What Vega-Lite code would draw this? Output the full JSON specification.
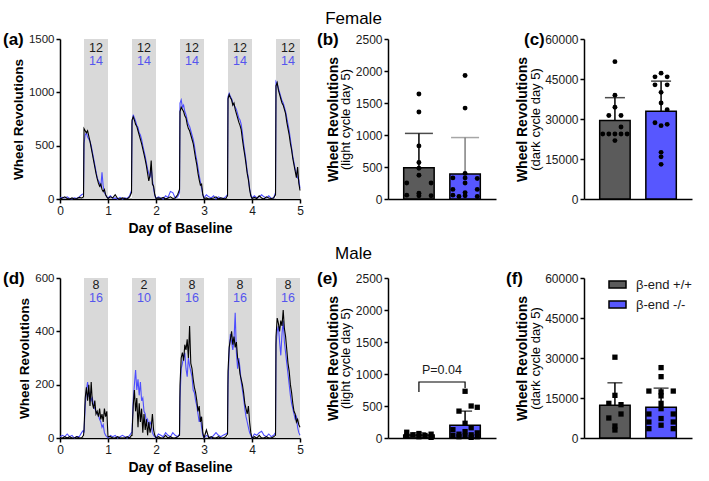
{
  "$schema": "https://vega.github.io/schema/vega-lite/v6.json",
  "background": "white",
  "padding": {"left": 3, "top": 10, "right": 5, "bottom": 5},
  "spacing": 10,
  "config": {
    "font": "Liberation Sans",
    "view": {"stroke": null},
    "axis": {"domainColor": "black", "domainWidth": 1.5, "tickColor": "black", "tickWidth": 1.5, "tickSize": 4, "labelColor": "#1a1a1a", "labelFontSize": 12, "labelPadding": 2, "titleColor": "black", "titleFontSize": 14, "titleFontWeight": "bold", "grid": false, "labelFlush": false},
    "legend": {"offset": 0},
    "title": {"color": "black"}
  },
  "datasets": {
    "fem": [
      {"t":0,"wt":0,"ko":10},{"t":0.05,"wt":10,"ko":15},{"t":0.1,"wt":20,"ko":10},{"t":0.15,"wt":5,"ko":20},{"t":0.2,"wt":0,"ko":5},{"t":0.25,"wt":10,"ko":0},{"t":0.3,"wt":0,"ko":10},{"t":0.35,"wt":5,"ko":5},{"t":0.4,"wt":15,"ko":20},{"t":0.45,"wt":10,"ko":40},{"t":0.49,"wt":20,"ko":50},
      {"t":0.5,"wt":660,"ko":520},{"t":0.525,"wt":640,"ko":600},{"t":0.55,"wt":620,"ko":620},{"t":0.575,"wt":640,"ko":580},{"t":0.6,"wt":590,"ko":560},{"t":0.625,"wt":540,"ko":540},{"t":0.65,"wt":480,"ko":500},{"t":0.675,"wt":420,"ko":440},{"t":0.7,"wt":360,"ko":380},{"t":0.725,"wt":300,"ko":320},{"t":0.75,"wt":240,"ko":260},{"t":0.775,"wt":190,"ko":200},{"t":0.8,"wt":150,"ko":170},{"t":0.825,"wt":120,"ko":150},{"t":0.85,"wt":140,"ko":110},{"t":0.875,"wt":90,"ko":250},{"t":0.9,"wt":70,"ko":120},{"t":0.925,"wt":90,"ko":60},{"t":0.95,"wt":40,"ko":40},{"t":0.975,"wt":20,"ko":20},{"t":1.0,"wt":5,"ko":10},
      {"t":1.05,"wt":20,"ko":30},{"t":1.1,"wt":10,"ko":5},{"t":1.15,"wt":40,"ko":10},{"t":1.2,"wt":5,"ko":0},{"t":1.25,"wt":0,"ko":15},{"t":1.3,"wt":10,"ko":0},{"t":1.35,"wt":5,"ko":10},{"t":1.4,"wt":0,"ko":5},{"t":1.45,"wt":20,"ko":30},{"t":1.49,"wt":60,"ko":80},
      {"t":1.5,"wt":740,"ko":700},{"t":1.525,"wt":770,"ko":790},{"t":1.55,"wt":740,"ko":760},{"t":1.575,"wt":700,"ko":730},{"t":1.6,"wt":680,"ko":690},{"t":1.625,"wt":640,"ko":670},{"t":1.65,"wt":600,"ko":620},{"t":1.675,"wt":560,"ko":600},{"t":1.7,"wt":520,"ko":560},{"t":1.725,"wt":470,"ko":500},{"t":1.75,"wt":420,"ko":450},{"t":1.775,"wt":370,"ko":400},{"t":1.8,"wt":310,"ko":340},{"t":1.825,"wt":240,"ko":280},{"t":1.85,"wt":170,"ko":240},{"t":1.875,"wt":220,"ko":200},{"t":1.9,"wt":360,"ko":300},{"t":1.925,"wt":140,"ko":180},{"t":1.95,"wt":120,"ko":100},{"t":1.975,"wt":40,"ko":30},{"t":2.0,"wt":5,"ko":5},
      {"t":2.05,"wt":10,"ko":20},{"t":2.1,"wt":5,"ko":10},{"t":2.15,"wt":15,"ko":0},{"t":2.2,"wt":0,"ko":30},{"t":2.25,"wt":10,"ko":15},{"t":2.3,"wt":20,"ko":70},{"t":2.35,"wt":5,"ko":60},{"t":2.4,"wt":10,"ko":10},{"t":2.45,"wt":40,"ko":20},{"t":2.49,"wt":90,"ko":60},
      {"t":2.5,"wt":820,"ko":900},{"t":2.525,"wt":860,"ko":930},{"t":2.55,"wt":840,"ko":860},{"t":2.575,"wt":820,"ko":880},{"t":2.6,"wt":780,"ko":820},{"t":2.625,"wt":760,"ko":790},{"t":2.65,"wt":700,"ko":740},{"t":2.675,"wt":660,"ko":700},{"t":2.7,"wt":640,"ko":680},{"t":2.725,"wt":600,"ko":640},{"t":2.75,"wt":560,"ko":600},{"t":2.775,"wt":520,"ko":560},{"t":2.8,"wt":450,"ko":500},{"t":2.825,"wt":380,"ko":420},{"t":2.85,"wt":320,"ko":360},{"t":2.875,"wt":240,"ko":290},{"t":2.9,"wt":180,"ko":220},{"t":2.925,"wt":130,"ko":160},{"t":2.95,"wt":140,"ko":100},{"t":2.975,"wt":40,"ko":40},{"t":3.0,"wt":5,"ko":10},
      {"t":3.05,"wt":10,"ko":40},{"t":3.1,"wt":0,"ko":20},{"t":3.15,"wt":5,"ko":10},{"t":3.2,"wt":10,"ko":30},{"t":3.25,"wt":20,"ko":0},{"t":3.3,"wt":0,"ko":20},{"t":3.35,"wt":10,"ko":10},{"t":3.4,"wt":5,"ko":5},{"t":3.45,"wt":0,"ko":20},{"t":3.49,"wt":30,"ko":40},
      {"t":3.5,"wt":940,"ko":960},{"t":3.525,"wt":980,"ko":990},{"t":3.55,"wt":950,"ko":960},{"t":3.575,"wt":930,"ko":940},{"t":3.6,"wt":880,"ko":900},{"t":3.625,"wt":900,"ko":880},{"t":3.65,"wt":840,"ko":860},{"t":3.675,"wt":800,"ko":840},{"t":3.7,"wt":760,"ko":800},{"t":3.725,"wt":720,"ko":760},{"t":3.75,"wt":690,"ko":740},{"t":3.775,"wt":650,"ko":700},{"t":3.8,"wt":560,"ko":620},{"t":3.825,"wt":480,"ko":520},{"t":3.85,"wt":410,"ko":440},{"t":3.875,"wt":330,"ko":360},{"t":3.9,"wt":240,"ko":260},{"t":3.925,"wt":180,"ko":200},{"t":3.95,"wt":90,"ko":100},{"t":3.975,"wt":30,"ko":40},{"t":4.0,"wt":5,"ko":10},
      {"t":4.05,"wt":15,"ko":30},{"t":4.1,"wt":5,"ko":10},{"t":4.15,"wt":30,"ko":20},{"t":4.2,"wt":10,"ko":40},{"t":4.25,"wt":0,"ko":20},{"t":4.3,"wt":20,"ko":10},{"t":4.35,"wt":10,"ko":30},{"t":4.4,"wt":5,"ko":5},{"t":4.45,"wt":10,"ko":10},{"t":4.49,"wt":40,"ko":60},
      {"t":4.5,"wt":1060,"ko":1100},{"t":4.525,"wt":1090,"ko":1080},{"t":4.55,"wt":1020,"ko":1040},{"t":4.575,"wt":980,"ko":1000},{"t":4.6,"wt":940,"ko":960},{"t":4.625,"wt":900,"ko":920},{"t":4.65,"wt":880,"ko":900},{"t":4.675,"wt":840,"ko":860},{"t":4.7,"wt":800,"ko":820},{"t":4.725,"wt":720,"ko":760},{"t":4.75,"wt":660,"ko":700},{"t":4.775,"wt":600,"ko":640},{"t":4.8,"wt":520,"ko":560},{"t":4.825,"wt":460,"ko":480},{"t":4.85,"wt":380,"ko":400},{"t":4.875,"wt":320,"ko":340},{"t":4.9,"wt":260,"ko":280},{"t":4.925,"wt":200,"ko":240},{"t":4.95,"wt":300,"ko":200},{"t":4.975,"wt":150,"ko":180},{"t":5.0,"wt":80,"ko":100}
    ],
    "mal": [
      {"t":0,"wt":0,"ko":5},{"t":0.05,"wt":0,"ko":10},{"t":0.1,"wt":5,"ko":5},{"t":0.15,"wt":0,"ko":15},{"t":0.2,"wt":5,"ko":5},{"t":0.25,"wt":0,"ko":10},{"t":0.3,"wt":0,"ko":0},{"t":0.35,"wt":5,"ko":5},{"t":0.4,"wt":0,"ko":5},{"t":0.45,"wt":0,"ko":20},{"t":0.49,"wt":10,"ko":30},
      {"t":0.5,"wt":30,"ko":20},{"t":0.525,"wt":150,"ko":120},{"t":0.55,"wt":190,"ko":180},{"t":0.575,"wt":140,"ko":210},{"t":0.6,"wt":200,"ko":160},{"t":0.625,"wt":120,"ko":170},{"t":0.65,"wt":210,"ko":140},{"t":0.675,"wt":130,"ko":150},{"t":0.7,"wt":110,"ko":120},{"t":0.725,"wt":140,"ko":110},{"t":0.75,"wt":90,"ko":100},{"t":0.775,"wt":100,"ko":90},{"t":0.8,"wt":80,"ko":85},{"t":0.825,"wt":110,"ko":70},{"t":0.85,"wt":70,"ko":60},{"t":0.875,"wt":90,"ko":40},{"t":0.9,"wt":60,"ko":50},{"t":0.925,"wt":110,"ko":20},{"t":0.95,"wt":80,"ko":10},{"t":0.975,"wt":100,"ko":5},{"t":1.0,"wt":5,"ko":0},
      {"t":1.05,"wt":5,"ko":10},{"t":1.1,"wt":0,"ko":5},{"t":1.15,"wt":0,"ko":10},{"t":1.2,"wt":5,"ko":0},{"t":1.25,"wt":0,"ko":5},{"t":1.3,"wt":0,"ko":10},{"t":1.35,"wt":0,"ko":5},{"t":1.4,"wt":5,"ko":0},{"t":1.45,"wt":0,"ko":10},{"t":1.49,"wt":10,"ko":20},
      {"t":1.5,"wt":10,"ko":20},{"t":1.525,"wt":120,"ko":140},{"t":1.55,"wt":180,"ko":200},{"t":1.575,"wt":100,"ko":255},{"t":1.6,"wt":150,"ko":180},{"t":1.625,"wt":40,"ko":220},{"t":1.65,"wt":130,"ko":160},{"t":1.675,"wt":60,"ko":210},{"t":1.7,"wt":110,"ko":140},{"t":1.725,"wt":20,"ko":150},{"t":1.75,"wt":90,"ko":100},{"t":1.775,"wt":30,"ko":90},{"t":1.8,"wt":70,"ko":60},{"t":1.825,"wt":10,"ko":70},{"t":1.85,"wt":60,"ko":40},{"t":1.875,"wt":20,"ko":60},{"t":1.9,"wt":40,"ko":50},{"t":1.925,"wt":90,"ko":20},{"t":1.95,"wt":30,"ko":10},{"t":1.975,"wt":10,"ko":5},{"t":2.0,"wt":0,"ko":0},
      {"t":2.05,"wt":5,"ko":15},{"t":2.1,"wt":0,"ko":10},{"t":2.15,"wt":0,"ko":5},{"t":2.2,"wt":10,"ko":20},{"t":2.25,"wt":0,"ko":10},{"t":2.3,"wt":5,"ko":5},{"t":2.35,"wt":0,"ko":20},{"t":2.4,"wt":0,"ko":10},{"t":2.45,"wt":5,"ko":5},{"t":2.49,"wt":10,"ko":15},
      {"t":2.5,"wt":200,"ko":150},{"t":2.525,"wt":300,"ko":260},{"t":2.55,"wt":320,"ko":280},{"t":2.575,"wt":290,"ko":300},{"t":2.6,"wt":350,"ko":320},{"t":2.625,"wt":330,"ko":260},{"t":2.65,"wt":370,"ko":230},{"t":2.675,"wt":300,"ko":300},{"t":2.7,"wt":420,"ko":270},{"t":2.725,"wt":280,"ko":250},{"t":2.75,"wt":260,"ko":230},{"t":2.775,"wt":220,"ko":180},{"t":2.8,"wt":190,"ko":170},{"t":2.825,"wt":170,"ko":140},{"t":2.85,"wt":140,"ko":120},{"t":2.875,"wt":100,"ko":90},{"t":2.9,"wt":120,"ko":60},{"t":2.925,"wt":60,"ko":80},{"t":2.95,"wt":80,"ko":40},{"t":2.975,"wt":20,"ko":10},{"t":3.0,"wt":0,"ko":0},
      {"t":3.05,"wt":30,"ko":10},{"t":3.1,"wt":0,"ko":5},{"t":3.15,"wt":5,"ko":0},{"t":3.2,"wt":0,"ko":10},{"t":3.25,"wt":0,"ko":20},{"t":3.3,"wt":5,"ko":10},{"t":3.35,"wt":0,"ko":5},{"t":3.4,"wt":0,"ko":10},{"t":3.45,"wt":5,"ko":15},{"t":3.49,"wt":15,"ko":20},
      {"t":3.5,"wt":250,"ko":200},{"t":3.525,"wt":340,"ko":330},{"t":3.55,"wt":370,"ko":390},{"t":3.575,"wt":400,"ko":360},{"t":3.6,"wt":350,"ko":330},{"t":3.625,"wt":380,"ko":370},{"t":3.65,"wt":340,"ko":470},{"t":3.675,"wt":360,"ko":320},{"t":3.7,"wt":300,"ko":260},{"t":3.725,"wt":280,"ko":300},{"t":3.75,"wt":240,"ko":260},{"t":3.775,"wt":220,"ko":210},{"t":3.8,"wt":200,"ko":180},{"t":3.825,"wt":170,"ko":150},{"t":3.85,"wt":130,"ko":110},{"t":3.875,"wt":110,"ko":80},{"t":3.9,"wt":90,"ko":60},{"t":3.925,"wt":120,"ko":40},{"t":3.95,"wt":60,"ko":20},{"t":3.975,"wt":20,"ko":10},{"t":4.0,"wt":0,"ko":0},
      {"t":4.05,"wt":5,"ko":15},{"t":4.1,"wt":0,"ko":10},{"t":4.15,"wt":10,"ko":20},{"t":4.2,"wt":0,"ko":25},{"t":4.25,"wt":0,"ko":10},{"t":4.3,"wt":5,"ko":5},{"t":4.35,"wt":0,"ko":15},{"t":4.4,"wt":0,"ko":5},{"t":4.45,"wt":5,"ko":10},{"t":4.49,"wt":10,"ko":20},
      {"t":4.5,"wt":380,"ko":350},{"t":4.525,"wt":450,"ko":400},{"t":4.55,"wt":430,"ko":420},{"t":4.575,"wt":400,"ko":360},{"t":4.6,"wt":440,"ko":310},{"t":4.625,"wt":420,"ko":390},{"t":4.65,"wt":480,"ko":440},{"t":4.675,"wt":410,"ko":360},{"t":4.7,"wt":380,"ko":320},{"t":4.725,"wt":330,"ko":280},{"t":4.75,"wt":280,"ko":240},{"t":4.775,"wt":250,"ko":200},{"t":4.8,"wt":200,"ko":160},{"t":4.825,"wt":170,"ko":130},{"t":4.85,"wt":130,"ko":110},{"t":4.875,"wt":100,"ko":90},{"t":4.9,"wt":90,"ko":70},{"t":4.925,"wt":60,"ko":80},{"t":4.95,"wt":70,"ko":40},{"t":4.975,"wt":50,"ko":20},{"t":5.0,"wt":40,"ko":10}
    ],
    "shadeF": [
      {"s":0.5,"e":1,"nw":"12","nk":"14"},{"s":1.5,"e":2,"nw":"12","nk":"14"},{"s":2.5,"e":3,"nw":"12","nk":"14"},{"s":3.5,"e":4,"nw":"12","nk":"14"},{"s":4.5,"e":5,"nw":"12","nk":"14"}
    ],
    "shadeM": [
      {"s":0.5,"e":1,"nw":"8","nk":"16"},{"s":1.5,"e":2,"nw":"2","nk":"10"},{"s":2.5,"e":3,"nw":"8","nk":"16"},{"s":3.5,"e":4,"nw":"8","nk":"16"},{"s":4.5,"e":5,"nw":"8","nk":"16"}
    ],
    "sums": [
      {"p":"b","g":"β-end +/+","m":490,"hi":1025},{"p":"b","g":"β-end -/-","m":390,"hi":960},
      {"p":"c","g":"β-end +/+","m":29400,"hi":38000},{"p":"c","g":"β-end -/-","m":32900,"hi":44200},
      {"p":"e","g":"β-end +/+","m":45,"hi":80},{"p":"e","g":"β-end -/-","m":200,"hi":420},
      {"p":"f","g":"β-end +/+","m":12300,"hi":20700},{"p":"f","g":"β-end -/-","m":11500,"hi":18700}
    ],
    "pts": [
      {"p":"b","g":"β-end +/+","v":1640,"l":3},{"p":"b","g":"β-end +/+","v":1360,"l":3},{"p":"b","g":"β-end +/+","v":830,"l":3},{"p":"b","g":"β-end +/+","v":570,"l":3},{"p":"b","g":"β-end +/+","v":480,"l":3},{"p":"b","g":"β-end +/+","v":370,"l":3},{"p":"b","g":"β-end +/+","v":250,"l":1},{"p":"b","g":"β-end +/+","v":250,"l":5},{"p":"b","g":"β-end +/+","v":90,"l":3},{"p":"b","g":"β-end +/+","v":60,"l":1},{"p":"b","g":"β-end +/+","v":50,"l":3},{"p":"b","g":"β-end +/+","v":50,"l":5},
      {"p":"b","g":"β-end -/-","v":1930,"l":3},{"p":"b","g":"β-end -/-","v":1420,"l":3},{"p":"b","g":"β-end -/-","v":400,"l":3},{"p":"b","g":"β-end -/-","v":330,"l":1},{"p":"b","g":"β-end -/-","v":330,"l":3},{"p":"b","g":"β-end -/-","v":320,"l":5},{"p":"b","g":"β-end -/-","v":250,"l":3},{"p":"b","g":"β-end -/-","v":150,"l":1},{"p":"b","g":"β-end -/-","v":150,"l":5},{"p":"b","g":"β-end -/-","v":100,"l":3},{"p":"b","g":"β-end -/-","v":60,"l":1},{"p":"b","g":"β-end -/-","v":50,"l":3},{"p":"b","g":"β-end -/-","v":40,"l":5},{"p":"b","g":"β-end -/-","v":40,"l":2},
      {"p":"c","g":"β-end +/+","v":51500,"l":3},{"p":"c","g":"β-end +/+","v":38900,"l":3},{"p":"c","g":"β-end +/+","v":34400,"l":3},{"p":"c","g":"β-end +/+","v":31300,"l":2},{"p":"c","g":"β-end +/+","v":31300,"l":4},{"p":"c","g":"β-end +/+","v":27000,"l":4},{"p":"c","g":"β-end +/+","v":24400,"l":1},{"p":"c","g":"β-end +/+","v":24400,"l":2},{"p":"c","g":"β-end +/+","v":24400,"l":3},{"p":"c","g":"β-end +/+","v":24400,"l":4},{"p":"c","g":"β-end +/+","v":24400,"l":5},{"p":"c","g":"β-end +/+","v":21900,"l":3},
      {"p":"c","g":"β-end -/-","v":47200,"l":3},{"p":"c","g":"β-end -/-","v":45800,"l":2},{"p":"c","g":"β-end -/-","v":45800,"l":4},{"p":"c","g":"β-end -/-","v":42800,"l":2},{"p":"c","g":"β-end -/-","v":42800,"l":4},{"p":"c","g":"β-end -/-","v":40000,"l":3},{"p":"c","g":"β-end -/-","v":36000,"l":3},{"p":"c","g":"β-end -/-","v":33500,"l":4},{"p":"c","g":"β-end -/-","v":28600,"l":2},{"p":"c","g":"β-end -/-","v":28000,"l":4},{"p":"c","g":"β-end -/-","v":27500,"l":3},{"p":"c","g":"β-end -/-","v":17500,"l":3},{"p":"c","g":"β-end -/-","v":15800,"l":3},{"p":"c","g":"β-end -/-","v":13000,"l":3},
      {"p":"e","g":"β-end +/+","v":90,"l":1},{"p":"e","g":"β-end +/+","v":70,"l":3},{"p":"e","g":"β-end +/+","v":60,"l":5},{"p":"e","g":"β-end +/+","v":50,"l":2},{"p":"e","g":"β-end +/+","v":40,"l":4},{"p":"e","g":"β-end +/+","v":30,"l":1},{"p":"e","g":"β-end +/+","v":20,"l":3},{"p":"e","g":"β-end +/+","v":10,"l":5},
      {"p":"e","g":"β-end -/-","v":730,"l":3},{"p":"e","g":"β-end -/-","v":500,"l":4},{"p":"e","g":"β-end -/-","v":480,"l":5},{"p":"e","g":"β-end -/-","v":420,"l":2},{"p":"e","g":"β-end -/-","v":230,"l":3},{"p":"e","g":"β-end -/-","v":160,"l":4},{"p":"e","g":"β-end -/-","v":130,"l":1},{"p":"e","g":"β-end -/-","v":100,"l":3},{"p":"e","g":"β-end -/-","v":80,"l":5},{"p":"e","g":"β-end -/-","v":60,"l":2},{"p":"e","g":"β-end -/-","v":50,"l":4},{"p":"e","g":"β-end -/-","v":40,"l":1},{"p":"e","g":"β-end -/-","v":30,"l":3},{"p":"e","g":"β-end -/-","v":20,"l":5},{"p":"e","g":"β-end -/-","v":20,"l":2},{"p":"e","g":"β-end -/-","v":10,"l":4},
      {"p":"f","g":"β-end +/+","v":30300,"l":3},{"p":"f","g":"β-end +/+","v":16000,"l":3},{"p":"f","g":"β-end +/+","v":13000,"l":2},{"p":"f","g":"β-end +/+","v":12500,"l":4},{"p":"f","g":"β-end +/+","v":9000,"l":4},{"p":"f","g":"β-end +/+","v":7500,"l":2},{"p":"f","g":"β-end +/+","v":4500,"l":3},{"p":"f","g":"β-end +/+","v":3000,"l":3},
      {"p":"f","g":"β-end -/-","v":26400,"l":3},{"p":"f","g":"β-end -/-","v":23000,"l":3},{"p":"f","g":"β-end -/-","v":17600,"l":1},{"p":"f","g":"β-end -/-","v":17600,"l":5},{"p":"f","g":"β-end -/-","v":17300,"l":3},{"p":"f","g":"β-end -/-","v":15800,"l":3},{"p":"f","g":"β-end -/-","v":13000,"l":3},{"p":"f","g":"β-end -/-","v":11000,"l":3},{"p":"f","g":"β-end -/-","v":9000,"l":1},{"p":"f","g":"β-end -/-","v":9000,"l":5},{"p":"f","g":"β-end -/-","v":7300,"l":3},{"p":"f","g":"β-end -/-","v":6000,"l":1},{"p":"f","g":"β-end -/-","v":6000,"l":5},{"p":"f","g":"β-end -/-","v":4800,"l":3},{"p":"f","g":"β-end -/-","v":3500,"l":1},{"p":"f","g":"β-end -/-","v":3500,"l":5}
    ]
  },
  "resolve": {"scale": {"x": "independent", "y": "independent", "fill": "independent"}},
  "vconcat": [
    {
      "title": {"text": "Female", "fontSize": 17, "fontWeight": "normal", "anchor": "middle", "dx": 6, "offset": 3},
      "bounds": "flush",
      "spacing": 88,
      "resolve": {"scale": {"x": "independent", "y": "independent", "fill": "independent"}},
      "hconcat": [
        {
          "width": 240, "height": 160,
          "title": {"text": "(a)", "anchor": "start", "frame": "group", "dx": -57, "dy": 24, "offset": 0, "baseline": "middle", "fontSize": 17, "fontWeight": "bold"},
          "layer": [
            {"data": {"name": "shadeF"}, "mark": {"type": "rect", "color": "#d9d9d9"},
             "encoding": {
               "x": {"field": "s", "type": "quantitative", "scale": {"domain": [0, 5], "nice": false}, "axis": {"values": [0, 1, 2, 3, 4, 5], "title": "Day of Baseline", "titlePadding": 5, "labelFontSize": 12}},
               "x2": {"field": "e"},
               "y": {"datum": 0, "type": "quantitative", "scale": {"domain": [0, 1500], "nice": false}, "axis": {"values": [0, 500, 1000, 1500], "format": "d", "title": "Wheel Revolutions", "titlePadding": 3, "titleFontSize": 13.5, "labelFontSize": 11.5}},
               "y2": {"datum": 1500}}},
            {"data": {"name": "fem"}, "mark": {"type": "line", "color": "#4d4dff", "strokeWidth": 1.1},
             "encoding": {"x": {"field": "t", "type": "quantitative"}, "y": {"field": "ko", "type": "quantitative"}}},
            {"data": {"name": "fem"}, "mark": {"type": "line", "color": "black", "strokeWidth": 1.1},
             "encoding": {"x": {"field": "t", "type": "quantitative"}, "y": {"field": "wt", "type": "quantitative"}}},
            {"data": {"name": "shadeF"}, "transform": [{"calculate": "(datum.s + datum.e) / 2", "as": "mid"}],
             "mark": {"type": "text", "fontSize": 12.5, "color": "#1a1a1a"},
             "encoding": {"x": {"field": "mid", "type": "quantitative"}, "y": {"datum": 1415, "type": "quantitative"}, "text": {"field": "nw"}}},
            {"data": {"name": "shadeF"}, "transform": [{"calculate": "(datum.s + datum.e) / 2", "as": "mid"}],
             "mark": {"type": "text", "fontSize": 12.5, "color": "#5555ee"},
             "encoding": {"x": {"field": "mid", "type": "quantitative"}, "y": {"datum": 1295, "type": "quantitative"}, "text": {"field": "nk"}}}
          ]
        },
        {
          "width": 108, "height": 160,
          "title": {"text": "(b)", "anchor": "start", "frame": "group", "dx": -71, "dy": 24, "offset": 0, "baseline": "middle", "fontSize": 17, "fontWeight": "bold"},
          "resolve": {"axis": {"y": "independent"}},
          "layer": [
            {"data": {"name": "sums"}, "transform": [{"filter": "datum.p == 'b'"}],
             "mark": {"type": "bar", "stroke": "black", "strokeWidth": 1.5},
             "encoding": {
               "x": {"field": "g", "type": "nominal", "scale": {"domain": ["β-end +/+", "β-end -/-"], "paddingInner": 0.34, "paddingOuter": 0.34}, "axis": {"labels": false, "ticks": false, "title": null}},
               "y": {"field": "m", "type": "quantitative", "scale": {"domain": [0, 2500], "nice": false}, "axis": {"orient": "left", "values": [0, 500, 1000, 1500, 2000, 2500], "format": "d", "title": "(light cycle day 5)", "titleFontWeight": "normal", "titleFontSize": 13, "titlePadding": 3}},
               "fill": {"field": "g", "type": "nominal", "scale": {"domain": ["β-end +/+", "β-end -/-"], "range": ["#5b5b5b", "#5757ff"]}, "legend": null}}},
            {"data": {"name": "sums"}, "transform": [{"filter": "datum.p == 'b'"}],
             "mark": {"type": "rule", "strokeWidth": 1.5},
             "encoding": {
               "x": {"field": "g", "type": "nominal"},
               "y": {"field": "m", "type": "quantitative", "axis": {"orient": "left", "title": "Wheel Revolutions", "labels": false, "ticks": false, "domain": false, "offset": 48, "titlePadding": 0, "minExtent": 0}},
               "y2": {"field": "hi"},
               "color": {"condition": {"test": "datum.g == 'β-end -/-'", "value": "#808080"}, "value": "black"}}},
            {"data": {"name": "sums"}, "transform": [{"filter": "datum.p == 'b'"}],
             "mark": {"type": "tick", "thickness": 1.5, "size": 28},
             "encoding": {
               "x": {"field": "g", "type": "nominal"},
               "y": {"field": "hi", "type": "quantitative", "axis": null},
               "color": {"condition": {"test": "datum.g == 'β-end -/-'", "value": "#808080"}, "value": "black"}}},
            {"data": {"name": "pts"}, "transform": [{"filter": "datum.p == 'b' && datum.l == 1"}], "mark": {"type": "point", "filled": true, "shape": "circle", "size": 24, "color": "black", "opacity": 1},
             "encoding": {"x": {"field": "g", "type": "nominal", "bandPosition": 0.1}, "y": {"field": "v", "type": "quantitative", "axis": null}}},
            {"data": {"name": "pts"}, "transform": [{"filter": "datum.p == 'b' && datum.l == 2"}], "mark": {"type": "point", "filled": true, "shape": "circle", "size": 24, "color": "black", "opacity": 1},
             "encoding": {"x": {"field": "g", "type": "nominal", "bandPosition": 0.3}, "y": {"field": "v", "type": "quantitative", "axis": null}}},
            {"data": {"name": "pts"}, "transform": [{"filter": "datum.p == 'b' && datum.l == 3"}], "mark": {"type": "point", "filled": true, "shape": "circle", "size": 24, "color": "black", "opacity": 1},
             "encoding": {"x": {"field": "g", "type": "nominal", "bandPosition": 0.5}, "y": {"field": "v", "type": "quantitative", "axis": null}}},
            {"data": {"name": "pts"}, "transform": [{"filter": "datum.p == 'b' && datum.l == 4"}], "mark": {"type": "point", "filled": true, "shape": "circle", "size": 24, "color": "black", "opacity": 1},
             "encoding": {"x": {"field": "g", "type": "nominal", "bandPosition": 0.7}, "y": {"field": "v", "type": "quantitative", "axis": null}}},
            {"data": {"name": "pts"}, "transform": [{"filter": "datum.p == 'b' && datum.l == 5"}], "mark": {"type": "point", "filled": true, "shape": "circle", "size": 24, "color": "black", "opacity": 1},
             "encoding": {"x": {"field": "g", "type": "nominal", "bandPosition": 0.9}, "y": {"field": "v", "type": "quantitative", "axis": null}}}
          ]
        },
        {
          "width": 108, "height": 160,
          "title": {"text": "(c)", "anchor": "start", "frame": "group", "dx": -60, "dy": 24, "offset": 0, "baseline": "middle", "fontSize": 17, "fontWeight": "bold"},
          "resolve": {"axis": {"y": "independent"}},
          "layer": [
            {"data": {"name": "sums"}, "transform": [{"filter": "datum.p == 'c'"}],
             "mark": {"type": "bar", "stroke": "black", "strokeWidth": 1.5},
             "encoding": {
               "x": {"field": "g", "type": "nominal", "scale": {"domain": ["β-end +/+", "β-end -/-"], "paddingInner": 0.34, "paddingOuter": 0.34}, "axis": {"labels": false, "ticks": false, "title": null}},
               "y": {"field": "m", "type": "quantitative", "scale": {"domain": [0, 60000], "nice": false}, "axis": {"orient": "left", "values": [0, 15000, 30000, 45000, 60000], "format": "d", "title": "(dark cycle day 5)", "titleFontWeight": "normal", "titleFontSize": 13, "titlePadding": 2}},
               "fill": {"field": "g", "type": "nominal", "scale": {"domain": ["β-end +/+", "β-end -/-"], "range": ["#5b5b5b", "#5757ff"]}, "legend": null}}},
            {"data": {"name": "sums"}, "transform": [{"filter": "datum.p == 'c'"}],
             "mark": {"type": "rule", "strokeWidth": 1.5, "color": "black"},
             "encoding": {
               "x": {"field": "g", "type": "nominal"},
               "y": {"field": "m", "type": "quantitative", "axis": {"orient": "left", "title": "Wheel Revolutions", "labels": false, "ticks": false, "domain": false, "offset": 55, "titlePadding": 0, "minExtent": 0}},
               "y2": {"field": "hi"}}},
            {"data": {"name": "sums"}, "transform": [{"filter": "datum.p == 'c'"}],
             "mark": {"type": "tick", "thickness": 1.5, "size": 20, "color": "black"},
             "encoding": {
               "x": {"field": "g", "type": "nominal"},
               "y": {"field": "hi", "type": "quantitative", "axis": null}}},
            {"data": {"name": "pts"}, "transform": [{"filter": "datum.p == 'c' && datum.l == 1"}], "mark": {"type": "point", "filled": true, "shape": "circle", "size": 24, "color": "black", "opacity": 1},
             "encoding": {"x": {"field": "g", "type": "nominal", "bandPosition": 0.1}, "y": {"field": "v", "type": "quantitative", "axis": null}}},
            {"data": {"name": "pts"}, "transform": [{"filter": "datum.p == 'c' && datum.l == 2"}], "mark": {"type": "point", "filled": true, "shape": "circle", "size": 24, "color": "black", "opacity": 1},
             "encoding": {"x": {"field": "g", "type": "nominal", "bandPosition": 0.3}, "y": {"field": "v", "type": "quantitative", "axis": null}}},
            {"data": {"name": "pts"}, "transform": [{"filter": "datum.p == 'c' && datum.l == 3"}], "mark": {"type": "point", "filled": true, "shape": "circle", "size": 24, "color": "black", "opacity": 1},
             "encoding": {"x": {"field": "g", "type": "nominal", "bandPosition": 0.5}, "y": {"field": "v", "type": "quantitative", "axis": null}}},
            {"data": {"name": "pts"}, "transform": [{"filter": "datum.p == 'c' && datum.l == 4"}], "mark": {"type": "point", "filled": true, "shape": "circle", "size": 24, "color": "black", "opacity": 1},
             "encoding": {"x": {"field": "g", "type": "nominal", "bandPosition": 0.7}, "y": {"field": "v", "type": "quantitative", "axis": null}}},
            {"data": {"name": "pts"}, "transform": [{"filter": "datum.p == 'c' && datum.l == 5"}], "mark": {"type": "point", "filled": true, "shape": "circle", "size": 24, "color": "black", "opacity": 1},
             "encoding": {"x": {"field": "g", "type": "nominal", "bandPosition": 0.9}, "y": {"field": "v", "type": "quantitative", "axis": null}}}
          ]
        }
      ]
    },
    {
      "title": {"text": "Male", "fontSize": 17, "fontWeight": "normal", "anchor": "middle", "dx": 6, "offset": 7},
      "bounds": "flush",
      "spacing": 88,
      "resolve": {"scale": {"x": "independent", "y": "independent", "fill": "independent"}},
      "hconcat": [
        {
          "width": 240, "height": 160,
          "title": {"text": "(d)", "anchor": "start", "frame": "group", "dx": -57, "dy": 24, "offset": 0, "baseline": "middle", "fontSize": 17, "fontWeight": "bold"},
          "layer": [
            {"data": {"name": "shadeM"}, "mark": {"type": "rect", "color": "#d9d9d9"},
             "encoding": {
               "x": {"field": "s", "type": "quantitative", "scale": {"domain": [0, 5], "nice": false}, "axis": {"values": [0, 1, 2, 3, 4, 5], "title": "Day of Baseline", "titlePadding": 5, "labelFontSize": 12}},
               "x2": {"field": "e"},
               "y": {"datum": 0, "type": "quantitative", "scale": {"domain": [0, 600], "nice": false}, "axis": {"values": [0, 200, 400, 600], "format": "d", "title": "Wheel Revolutions", "titlePadding": 3, "titleFontSize": 13.5, "labelFontSize": 11.5}},
               "y2": {"datum": 600}}},
            {"data": {"name": "mal"}, "mark": {"type": "line", "color": "#4d4dff", "strokeWidth": 1.1},
             "encoding": {"x": {"field": "t", "type": "quantitative"}, "y": {"field": "ko", "type": "quantitative"}}},
            {"data": {"name": "mal"}, "mark": {"type": "line", "color": "black", "strokeWidth": 1.1},
             "encoding": {"x": {"field": "t", "type": "quantitative"}, "y": {"field": "wt", "type": "quantitative"}}},
            {"data": {"name": "shadeM"}, "transform": [{"calculate": "(datum.s + datum.e) / 2", "as": "mid"}],
             "mark": {"type": "text", "fontSize": 12.5, "color": "#1a1a1a"},
             "encoding": {"x": {"field": "mid", "type": "quantitative"}, "y": {"datum": 572, "type": "quantitative"}, "text": {"field": "nw"}}},
            {"data": {"name": "shadeM"}, "transform": [{"calculate": "(datum.s + datum.e) / 2", "as": "mid"}],
             "mark": {"type": "text", "fontSize": 12.5, "color": "#5555ee"},
             "encoding": {"x": {"field": "mid", "type": "quantitative"}, "y": {"datum": 524, "type": "quantitative"}, "text": {"field": "nk"}}}
          ]
        },
        {
          "width": 108, "height": 160,
          "title": {"text": "(e)", "anchor": "start", "frame": "group", "dx": -71, "dy": 24, "offset": 0, "baseline": "middle", "fontSize": 17, "fontWeight": "bold"},
          "resolve": {"axis": {"y": "independent"}},
          "layer": [
            {"data": {"name": "sums"}, "transform": [{"filter": "datum.p == 'e'"}],
             "mark": {"type": "bar", "stroke": "black", "strokeWidth": 1.5},
             "encoding": {
               "x": {"field": "g", "type": "nominal", "scale": {"domain": ["β-end +/+", "β-end -/-"], "paddingInner": 0.34, "paddingOuter": 0.34}, "axis": {"labels": false, "ticks": false, "title": null}},
               "y": {"field": "m", "type": "quantitative", "scale": {"domain": [0, 2500], "nice": false}, "axis": {"orient": "left", "values": [0, 500, 1000, 1500, 2000, 2500], "format": "d", "title": "(light cycle day 5)", "titleFontWeight": "normal", "titleFontSize": 13, "titlePadding": 3}},
               "fill": {"field": "g", "type": "nominal", "scale": {"domain": ["β-end +/+", "β-end -/-"], "range": ["#5b5b5b", "#5757ff"]}, "legend": null}}},
            {"data": {"name": "sums"}, "transform": [{"filter": "datum.p == 'e'"}],
             "mark": {"type": "rule", "strokeWidth": 1.5, "color": "black"},
             "encoding": {
               "x": {"field": "g", "type": "nominal"},
               "y": {"field": "m", "type": "quantitative", "axis": {"orient": "left", "title": "Wheel Revolutions", "labels": false, "ticks": false, "domain": false, "offset": 48, "titlePadding": 0, "minExtent": 0}},
               "y2": {"field": "hi"}}},
            {"data": {"name": "sums"}, "transform": [{"filter": "datum.p == 'e'"}],
             "mark": {"type": "tick", "thickness": 1.5, "size": 14, "color": "black"},
             "encoding": {
               "x": {"field": "g", "type": "nominal"},
               "y": {"field": "hi", "type": "quantitative", "axis": null}}},
            {"data": {"name": "pts"}, "transform": [{"filter": "datum.p == 'e' && datum.l == 1"}], "mark": {"type": "point", "filled": true, "shape": "square", "size": 28, "color": "black", "opacity": 1},
             "encoding": {"x": {"field": "g", "type": "nominal", "bandPosition": 0.1}, "y": {"field": "v", "type": "quantitative", "axis": null}}},
            {"data": {"name": "pts"}, "transform": [{"filter": "datum.p == 'e' && datum.l == 2"}], "mark": {"type": "point", "filled": true, "shape": "square", "size": 28, "color": "black", "opacity": 1},
             "encoding": {"x": {"field": "g", "type": "nominal", "bandPosition": 0.3}, "y": {"field": "v", "type": "quantitative", "axis": null}}},
            {"data": {"name": "pts"}, "transform": [{"filter": "datum.p == 'e' && datum.l == 3"}], "mark": {"type": "point", "filled": true, "shape": "square", "size": 28, "color": "black", "opacity": 1},
             "encoding": {"x": {"field": "g", "type": "nominal", "bandPosition": 0.5}, "y": {"field": "v", "type": "quantitative", "axis": null}}},
            {"data": {"name": "pts"}, "transform": [{"filter": "datum.p == 'e' && datum.l == 4"}], "mark": {"type": "point", "filled": true, "shape": "square", "size": 28, "color": "black", "opacity": 1},
             "encoding": {"x": {"field": "g", "type": "nominal", "bandPosition": 0.7}, "y": {"field": "v", "type": "quantitative", "axis": null}}},
            {"data": {"name": "pts"}, "transform": [{"filter": "datum.p == 'e' && datum.l == 5"}], "mark": {"type": "point", "filled": true, "shape": "square", "size": 28, "color": "black", "opacity": 1},
             "encoding": {"x": {"field": "g", "type": "nominal", "bandPosition": 0.9}, "y": {"field": "v", "type": "quantitative", "axis": null}}},
            {"data": {"values": [{"g": "β-end +/+", "y": 720, "o": 1}, {"g": "β-end +/+", "y": 875, "o": 2}, {"g": "β-end -/-", "y": 875, "o": 3}, {"g": "β-end -/-", "y": 780, "o": 4}]},
             "mark": {"type": "line", "color": "black", "strokeWidth": 1.2},
             "encoding": {
               "x": {"field": "g", "type": "nominal"},
               "y": {"field": "y", "type": "quantitative", "axis": null},
               "order": {"field": "o"}}},
            {"data": {"values": [{"lab": "P=0.04"}]},
             "mark": {"type": "text", "fontSize": 12.5, "color": "#1a1a1a", "dx": 23},
             "encoding": {
               "x": {"datum": "β-end +/+", "type": "nominal"},
               "y": {"datum": 1070, "type": "quantitative", "axis": null},
               "text": {"field": "lab"}}}
          ]
        },
        {
          "width": 108, "height": 160,
          "title": {"text": "(f)", "anchor": "start", "frame": "group", "dx": -78, "dy": 24, "offset": 0, "baseline": "middle", "fontSize": 17, "fontWeight": "bold"},
          "resolve": {"axis": {"y": "independent"}},
          "layer": [
            {"data": {"name": "sums"}, "transform": [{"filter": "datum.p == 'f'"}],
             "mark": {"type": "bar", "stroke": "black", "strokeWidth": 1.5},
             "encoding": {
               "x": {"field": "g", "type": "nominal", "scale": {"domain": ["β-end +/+", "β-end -/-"], "paddingInner": 0.34, "paddingOuter": 0.34}, "axis": {"labels": false, "ticks": false, "title": null}},
               "y": {"field": "m", "type": "quantitative", "scale": {"domain": [0, 60000], "nice": false}, "axis": {"orient": "left", "values": [0, 15000, 30000, 45000, 60000], "format": "d", "title": "(dark cycle day 5)", "titleFontWeight": "normal", "titleFontSize": 13, "titlePadding": 2}},
               "fill": {"field": "g", "type": "nominal", "scale": {"domain": ["β-end +/+", "β-end -/-"], "range": ["#5b5b5b", "#5757ff"]},
                 "legend": {"orient": "none", "legendX": 24, "legendY": -3, "title": null, "padding": 0, "symbolType": "M-1,-0.4H1V0.4H-1Z", "symbolSize": 289, "symbolStrokeColor": "black", "symbolStrokeWidth": 1.5, "labelFontSize": 13, "labelColor": "#1a1a1a", "labelOffset": 9, "rowPadding": 3}}}},
            {"data": {"name": "sums"}, "transform": [{"filter": "datum.p == 'f'"}],
             "mark": {"type": "rule", "strokeWidth": 1.5, "color": "black"},
             "encoding": {
               "x": {"field": "g", "type": "nominal"},
               "y": {"field": "m", "type": "quantitative", "axis": {"orient": "left", "title": "Wheel Revolutions", "labels": false, "ticks": false, "domain": false, "offset": 55, "titlePadding": 0, "minExtent": 0}},
               "y2": {"field": "hi"}}},
            {"data": {"name": "sums"}, "transform": [{"filter": "datum.p == 'f'"}],
             "mark": {"type": "tick", "thickness": 1.5, "size": 15, "color": "black"},
             "encoding": {
               "x": {"field": "g", "type": "nominal"},
               "y": {"field": "hi", "type": "quantitative", "axis": null}}},
            {"data": {"name": "pts"}, "transform": [{"filter": "datum.p == 'f' && datum.l == 1"}], "mark": {"type": "point", "filled": true, "shape": "square", "size": 28, "color": "black", "opacity": 1},
             "encoding": {"x": {"field": "g", "type": "nominal", "bandPosition": 0.1}, "y": {"field": "v", "type": "quantitative", "axis": null}}},
            {"data": {"name": "pts"}, "transform": [{"filter": "datum.p == 'f' && datum.l == 2"}], "mark": {"type": "point", "filled": true, "shape": "square", "size": 28, "color": "black", "opacity": 1},
             "encoding": {"x": {"field": "g", "type": "nominal", "bandPosition": 0.3}, "y": {"field": "v", "type": "quantitative", "axis": null}}},
            {"data": {"name": "pts"}, "transform": [{"filter": "datum.p == 'f' && datum.l == 3"}], "mark": {"type": "point", "filled": true, "shape": "square", "size": 28, "color": "black", "opacity": 1},
             "encoding": {"x": {"field": "g", "type": "nominal", "bandPosition": 0.5}, "y": {"field": "v", "type": "quantitative", "axis": null}}},
            {"data": {"name": "pts"}, "transform": [{"filter": "datum.p == 'f' && datum.l == 4"}], "mark": {"type": "point", "filled": true, "shape": "square", "size": 28, "color": "black", "opacity": 1},
             "encoding": {"x": {"field": "g", "type": "nominal", "bandPosition": 0.7}, "y": {"field": "v", "type": "quantitative", "axis": null}}},
            {"data": {"name": "pts"}, "transform": [{"filter": "datum.p == 'f' && datum.l == 5"}], "mark": {"type": "point", "filled": true, "shape": "square", "size": 28, "color": "black", "opacity": 1},
             "encoding": {"x": {"field": "g", "type": "nominal", "bandPosition": 0.9}, "y": {"field": "v", "type": "quantitative", "axis": null}}}
          ]
        }
      ]
    }
  ]
}
